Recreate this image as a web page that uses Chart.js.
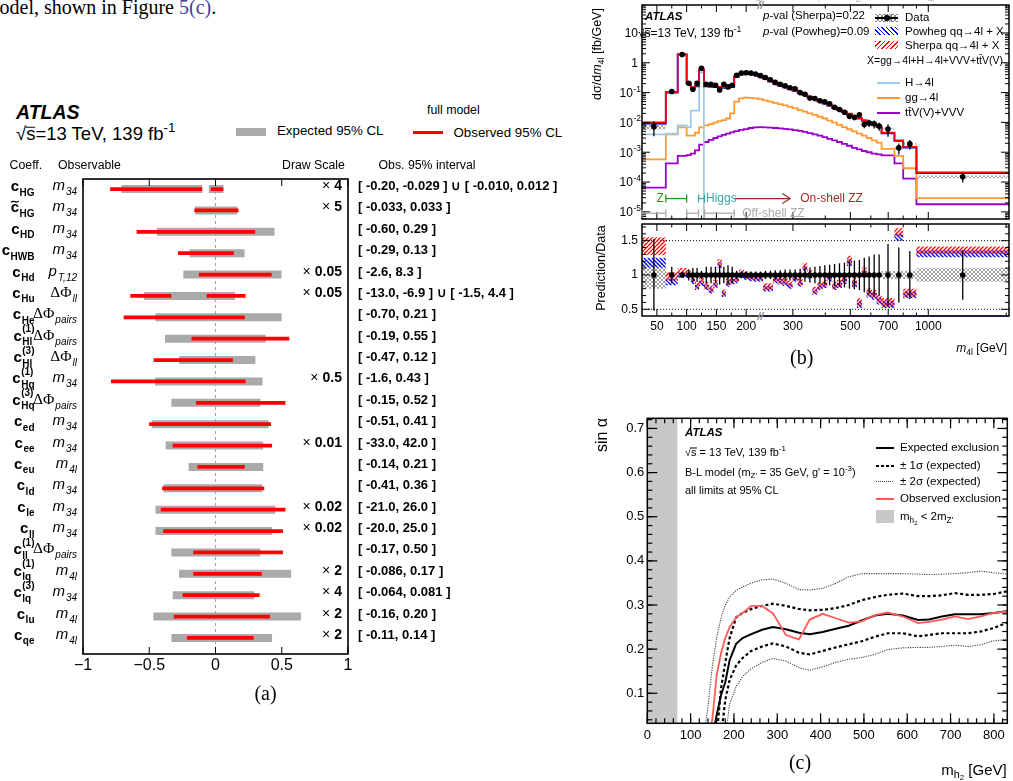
<!DOCTYPE html>
<html lang="en">
<head>
<meta charset="UTF-8">
<meta name="viewport" content="width=device-width, initial-scale=1.0">
<title>EFT limits, m4l spectrum and sin alpha exclusion</title>
<script src="https://cdn.jsdelivr.net/npm/chart.js"></script>
<style>
  html, body { margin: 0; padding: 0; background: #fff; }
  body { position: relative; width: 1013px; height: 781px; overflow: hidden;
         font-family: "Liberation Sans", Arial, Helvetica, sans-serif; color: #000; }
  canvas { position: absolute; }
  .t { position: absolute; white-space: nowrap; line-height: 1; }
  .t sub { font-size: 0.72em; vertical-align: -0.32em; line-height: 0; }
  .t sup { font-size: 0.72em; vertical-align: 0.55em; line-height: 0; }
  .sw { position: absolute; }
  .ov { position: relative; }
  .ov::after { content: ""; position: absolute; left: 0; right: 0; top: 0.2em; border-top: 0.06em solid #000; }
</style>
</head>
<body>
<canvas id="chartA" width="580" height="520" style="left:0;top:169px"></canvas>
<canvas id="chartB" width="413" height="223" style="left:600px;top:0"></canvas>
<canvas id="chartR" width="413" height="127" style="left:600px;top:210px"></canvas>
<canvas id="chartC" width="413" height="351" style="left:600px;top:404px"></canvas>
<script>
const FF = '"Liberation Sans", Arial, Helvetica, sans-serif';
const SERIF = '"Liberation Serif", "Times New Roman", serif';
Chart.defaults.font.family = FF;
Chart.defaults.color = '#000';

// ---------- (a) EFT coefficient limits ----------
const coeffSub = ['HG', 'HG', 'HD', 'HWB', 'Hd', 'Hu', 'He', 'Hl', 'Hl', 'Hq', 'Hq', 'ed', 'ee', 'eu', 'ld', 'le', 'll', 'll', 'lq', 'lq', 'lu', 'qe'];
const coeffSup = ['', '', '', '', '', '', '', '(1)', '(3)', '(1)', '(3)', '', '', '', '', '', '', '(1)', '(1)', '(3)', '', ''];
const tildeRows = [1];
const obsMain = ['m', 'm', 'm', 'm', 'p', 'ΔΦ', 'ΔΦ', 'ΔΦ', 'ΔΦ', 'm', 'ΔΦ', 'm', 'm', 'm', 'm', 'm', 'm', 'ΔΦ', 'm', 'm', 'm', 'm'];
const obsSub = ['34', '34', '34', '34', 'T,12', 'll', 'pairs', 'pairs', 'll', '34', 'pairs', '34', '34', '4l', '34', '34', '34', 'pairs', '4l', '34', '4l', '4l'];
const drawScale = ['4', '5', '', '', '0.05', '0.05', '', '', '', '0.5', '', '', '0.01', '', '', '0.02', '0.02', '', '2', '4', '2', '2'];
const obsInterval = ['[ -0.20, -0.029 ] \u222a [ -0.010, 0.012 ]', '[ -0.033, 0.033 ]', '[ -0.60, 0.29 ]', '[ -0.29, 0.13 ]',
  '[ -2.6, 8.3 ]', '[ -13.0, -6.9 ] \u222a [ -1.5, 4.4 ]', '[ -0.70, 0.21 ]', '[ -0.19, 0.55 ]', '[ -0.47, 0.12 ]',
  '[ -1.6, 0.43 ]', '[ -0.15, 0.52 ]', '[ -0.51, 0.41 ]', '[ -33.0, 42.0 ]', '[ -0.14, 0.21 ]', '[ -0.41, 0.36 ]',
  '[ -21.0, 26.0 ]', '[ -20.0, 25.0 ]', '[ -0.17, 0.50 ]', '[ -0.086, 0.17 ]', '[ -0.064, 0.081 ]', '[ -0.16, 0.20 ]', '[ -0.11, 0.14 ]'];
const expected95 = [
  [[-0.71, -0.10], [-0.05, 0.06]], [[-0.155, 0.165]], [[-0.443, 0.445]], [[-0.195, 0.219]], [[-0.243, 0.499]],
  [[-0.541, 0.147]], [[-0.453, 0.499]], [[-0.381, 0.379]], [[-0.275, 0.301]], [[-0.456, 0.355]], [[-0.333, 0.339]],
  [[-0.48, 0.40]], [[-0.376, 0.36]], [[-0.203, 0.36]], [[-0.392, 0.352]], [[-0.453, 0.451]], [[-0.453, 0.427]],
  [[-0.333, 0.339]], [[-0.275, 0.571]], [[-0.323, 0.293]], [[-0.469, 0.645]], [[-0.333, 0.427]]
];
const observed95 = [
  [[-0.795, -0.10], [-0.035, 0.059]], [[-0.16, 0.173]], [[-0.595, 0.299]], [[-0.283, 0.139]], [[-0.125, 0.424]],
  [[-0.643, -0.333], [-0.067, 0.227]], [[-0.693, 0.221]], [[-0.181, 0.557]], [[-0.467, 0.131]], [[-0.789, 0.227]],
  [[-0.147, 0.528]], [[-0.501, 0.419]], [[-0.323, 0.427]], [[-0.136, 0.221]], [[-0.403, 0.368]], [[-0.413, 0.528]],
  [[-0.395, 0.509]], [[-0.168, 0.509]], [[-0.168, 0.349]], [[-0.248, 0.333]], [[-0.315, 0.411]], [[-0.216, 0.288]]
];
const xTicksA = [-1, -0.5, 0, 0.5, 1];
const rowRange = [-0.47, 21.75];

// ---------- (b) m4l spectrum ----------
const binEdges = [25, 65, 85, 100, 107, 114, 121, 129, 137, 145, 152, 159, 166, 173, 180, 188, 196, 204, 212, 220,
  230, 240, 251, 262, 274, 286, 299, 313, 327, 341, 357, 373, 390, 407, 425, 444, 464, 485, 507, 530,
  554, 578, 604, 632, 660, 740, 800, 900, 2050];
const dataVals = [0.0072, 0.109, 1.89, 0.205, 0.13, 0.205, 0.65, 0.19, 0.19, 0.176,
  0.123, 0.19, 0.155, 0.176, 0.38, 0.45, 0.46, 0.45, 0.42, 0.37,
  0.32, 0.27, 0.22, 0.19, 0.168, 0.145, 0.135, 0.10, 0.088, 0.066,
  0.063, 0.053, 0.049, 0.042, 0.032, 0.027, 0.022, 0.016, 0.0148, 0.018,
  0.0085, 0.0096, 0.009, 0.0075, 0.006, 0.0014, 0.0019, 0.00015];
const dataErr = [0.52, 0.12, 0.03, 0.08, 0.10, 0.10, 0.06, 0.12, 0.12, 0.12,
  0.14, 0.12, 0.14, 0.12, 0.06, 0.05, 0.05, 0.05, 0.05, 0.05,
  0.06, 0.06, 0.07, 0.07, 0.08, 0.08, 0.08, 0.09, 0.10, 0.11,
  0.12, 0.13, 0.14, 0.15, 0.16, 0.17, 0.18, 0.20, 0.21, 0.22,
  0.25, 0.27, 0.30, 0.30, 0.45, 0.40, 0.35, 0.36];
const dataSyst = [0.20, 0.03, 0.03, 0.03, 0.03, 0.03, 0.03, 0.03, 0.03, 0.03,
  0.03, 0.03, 0.03, 0.03, 0.03, 0.03, 0.03, 0.03, 0.03, 0.03,
  0.03, 0.03, 0.03, 0.03, 0.03, 0.03, 0.03, 0.03, 0.03, 0.03,
  0.03, 0.03, 0.03, 0.03, 0.03, 0.03, 0.03, 0.03, 0.03, 0.03,
  0.03, 0.03, 0.03, 0.03, 0.06, 0.06, 0.06, 0.10];
const sherpaVals = [0.0100, 0.105, 1.95, 0.21, 0.15, 0.17, 0.60, 0.17, 0.165, 0.16,
  0.155, 0.15, 0.15, 0.165, 0.35, 0.43, 0.45, 0.44, 0.41, 0.36,
  0.30, 0.25, 0.21, 0.178, 0.155, 0.135, 0.12, 0.10, 0.086, 0.073,
  0.062, 0.053, 0.045, 0.038, 0.032, 0.027, 0.023, 0.0195, 0.0165, 0.014,
  0.0118, 0.010, 0.0085, 0.0072, 0.0045, 0.0025, 0.0015, 0.00021];
const powhegVals = [0.0092, 0.100, 1.88, 0.20, 0.143, 0.162, 0.58, 0.162, 0.157, 0.152,
  0.147, 0.143, 0.143, 0.157, 0.335, 0.41, 0.43, 0.42, 0.395, 0.345,
  0.288, 0.24, 0.202, 0.171, 0.149, 0.13, 0.115, 0.096, 0.083, 0.07,
  0.06, 0.051, 0.043, 0.0365, 0.031, 0.026, 0.022, 0.0187, 0.0158, 0.0134,
  0.0113, 0.0096, 0.0082, 0.0069, 0.0043, 0.0024, 0.00144, 0.0002];
const higgsVals = [0.004, 0.0042, 0.0079, 0.0069, 0.025, 0.025, 0.47, 1e-7];
const ggVals = [5.8e-4, 0.004, 0.0068, 0.0036, 0.0036, 0.0045, 0.0068, 0.008, 0.0088, 0.0098,
  0.011, 0.012, 0.0135, 0.02, 0.05, 0.064, 0.068, 0.067, 0.064, 0.06,
  0.055, 0.05, 0.045, 0.041, 0.037, 0.033, 0.03, 0.026, 0.023, 0.02,
  0.018, 0.0155, 0.0135, 0.0115, 0.0098, 0.0083, 0.007, 0.0059, 0.005, 0.0042,
  0.0036, 0.003, 0.0025, 0.0021, 0.0013, 0.00075, 0.00029, 2.9e-5];
const ttvVals = [6.5e-5, 4.2e-4, 7.6e-4, 8.0e-4, 9.0e-4, 1.15e-3, 1.8e-3, 2.2e-3, 2.6e-3, 3.0e-3,
  3.4e-3, 3.8e-3, 4.2e-3, 4.6e-3, 5.1e-3, 5.6e-3, 6.0e-3, 6.5e-3, 6.8e-3, 6.9e-3,
  6.8e-3, 6.7e-3, 6.5e-3, 6.3e-3, 6.1e-3, 5.8e-3, 5.5e-3, 5.2e-3, 4.8e-3, 4.4e-3,
  4.0e-3, 3.6e-3, 3.2e-3, 2.8e-3, 2.5e-3, 2.2e-3, 1.9e-3, 1.65e-3, 1.4e-3, 1.25e-3,
  1.1e-3, 1.0e-3, 9.0e-4, 8.5e-4, 7.9e-4, 4.2e-4, 1.3e-4, 1.8e-5];
const sherpaRatio = [1.42, 0.98, 1.05, 1.03, 0.95, 0.85, 0.92, 0.85, 0.80, 0.88,
  1.18, 0.74, 0.90, 0.93, 0.95, 1.03, 1.00, 0.98, 0.97, 0.97,
  0.83, 0.83, 0.95, 0.93, 0.91, 0.87, 0.97, 0.90, 1.12, 1.02,
  0.78, 0.85, 0.88, 0.98, 0.85, 0.88, 0.95, 1.22, 0.90, 0.60,
  1.05, 0.75, 0.72, 0.65, 0.60, 1.62, 0.74, 1.36];
const sherpaRatioErr = [0.13, 0.06, 0.05, 0.05, 0.05, 0.05, 0.05, 0.05, 0.05, 0.05,
  0.05, 0.05, 0.05, 0.05, 0.05, 0.05, 0.05, 0.05, 0.05, 0.05,
  0.05, 0.05, 0.05, 0.05, 0.05, 0.05, 0.05, 0.05, 0.05, 0.05,
  0.05, 0.05, 0.05, 0.05, 0.05, 0.05, 0.06, 0.06, 0.06, 0.06,
  0.06, 0.06, 0.06, 0.06, 0.065, 0.06, 0.06, 0.055];
const powhegRatio = [1.18, 0.90, 1.00, 0.99, 0.91, 0.82, 0.88, 0.82, 0.77, 0.85,
  1.14, 0.72, 0.87, 0.90, 0.92, 1.00, 0.97, 0.95, 0.94, 0.94,
  0.80, 0.80, 0.92, 0.90, 0.88, 0.84, 0.94, 0.87, 1.09, 0.99,
  0.75, 0.82, 0.85, 0.95, 0.82, 0.85, 0.92, 1.18, 0.87, 0.57,
  1.02, 0.72, 0.69, 0.62, 0.57, 1.55, 0.71, 1.31];
const powhegRatioErr = [0.07, 0.05, 0.04, 0.04, 0.04, 0.04, 0.04, 0.04, 0.04, 0.04,
  0.04, 0.04, 0.04, 0.04, 0.04, 0.04, 0.04, 0.04, 0.04, 0.04,
  0.04, 0.04, 0.04, 0.04, 0.04, 0.04, 0.04, 0.04, 0.04, 0.04,
  0.04, 0.04, 0.04, 0.04, 0.04, 0.04, 0.05, 0.05, 0.05, 0.05,
  0.05, 0.05, 0.05, 0.05, 0.05, 0.05, 0.05, 0.05];
const m4lTicks = [50, 100, 150, 200, 300, 500, 700, 1000];
const m4lMinor = [75, 125, 175, 400, 600, 800, 900, 2000];
const ratioTicks = [0.5, 1, 1.5];
const ratioMinor = [0.6, 0.7, 0.8, 0.9, 1.1, 1.2, 1.3, 1.4, 1.6, 1.7];
const zWindow = [65, 100], higgsWindow = [120, 130], onShellArrow = [180, 293];
const offShellWindows = [[25, 65], [100, 120], [130, 180]];
const annotLevels = [2.8e-5, 9e-6];

// ---------- (c) sin alpha exclusion ----------
const mh2 = [130, 140, 150, 160, 170, 180, 190, 205, 220, 240, 265, 290, 320, 350, 375, 405, 435, 465, 495, 525, 555, 590, 625, 650, 680, 710, 740, 770, 800, 835];
const obsLimit = [null, 0.0, 0.04, 0.14, 0.19, 0.225, 0.25, 0.272, 0.282, 0.298, 0.298, 0.281, 0.232, 0.222, 0.267, 0.28, 0.27, 0.26, 0.263, 0.277, 0.283, 0.274, 0.259, 0.262, 0.267, 0.274, 0.268, 0.274, 0.282, 0.286];
const expLimit = [null, null, 0.0, 0.05, 0.095, 0.125, 0.175, 0.212, 0.225, 0.234, 0.244, 0.25, 0.245, 0.237, 0.234, 0.239, 0.246, 0.253, 0.265, 0.276, 0.28, 0.276, 0.266, 0.267, 0.274, 0.279, 0.279, 0.279, 0.282, 0.287];
const plus1s = [null, null, null, 0.0, 0.11, 0.17, 0.225, 0.272, 0.282, 0.291, 0.298, 0.303, 0.298, 0.291, 0.288, 0.289, 0.293, 0.3, 0.311, 0.318, 0.323, 0.326, 0.32, 0.32, 0.322, 0.327, 0.323, 0.323, 0.325, 0.332];
const minus1s = [null, null, null, null, 0.0, 0.085, 0.13, 0.163, 0.18, 0.196, 0.206, 0.213, 0.206, 0.192, 0.188, 0.196, 0.204, 0.211, 0.218, 0.228, 0.236, 0.236, 0.229, 0.232, 0.236, 0.236, 0.236, 0.24, 0.248, 0.262];
const plus2s = [0.0, 0.07, 0.16, 0.225, 0.27, 0.3, 0.318, 0.333, 0.341, 0.35, 0.357, 0.359, 0.349, 0.335, 0.334, 0.338, 0.349, 0.364, 0.371, 0.371, 0.371, 0.371, 0.37, 0.369, 0.37, 0.371, 0.373, 0.377, 0.373, 0.37];
const minus2s = [null, null, null, null, null, 0.0, 0.075, 0.115, 0.138, 0.156, 0.17, 0.179, 0.173, 0.158, 0.152, 0.16, 0.17, 0.177, 0.181, 0.188, 0.199, 0.203, 0.204, 0.204, 0.206, 0.209, 0.206, 0.21, 0.219, 0.222];
const shadeRegion = [0, 70];
const cXTicks = [0, 100, 200, 300, 400, 500, 600, 700, 800];
const cYTicks = [0.1, 0.2, 0.3, 0.4, 0.5, 0.6, 0.7];
const cRange = { xmin: 0, xmax: 831, ymin: 0.032, ymax: 0.723 };

// ---------- helpers ----------
// m4l axis: linear up to 220 GeV, logarithmic above
function u(m) { return m <= 220 ? m : 220 + 435 * Math.log10(m / 220); }
function histPts(edges, vals) {
  const pts = vals.map((v, i) => ({ x: u(edges[i]), y: v }));
  pts.push({ x: u(edges[vals.length]), y: vals[vals.length - 1] });
  return pts;
}
const binMid = binEdges.slice(0, -1).map((e, i) => (u(e) + u(binEdges[i + 1])) / 2);
function segPts(rows) {
  const pts = [];
  rows.forEach((segs, i) => segs.forEach(([lo, hi]) => pts.push({ x: lo, y: i }, { x: hi, y: i }, { x: hi, y: null })));
  return pts;
}
function seg(ctx, x1, y1, x2, y2) { ctx.beginPath(); ctx.moveTo(x1, y1); ctx.lineTo(x2, y2); ctx.stroke(); }
function xTicksIn(ctx, a, sc, vals, len, top, bottom) {
  vals.forEach(v => {
    const p = sc.getPixelForValue(v);
    if (p < a.left - 0.5 || p > a.right + 0.5) return;
    if (bottom) seg(ctx, p, a.bottom, p, a.bottom - len);
    if (top) seg(ctx, p, a.top, p, a.top + len);
  });
}
function yTicksIn(ctx, a, sc, vals, len, left, right) {
  vals.forEach(v => {
    const p = sc.getPixelForValue(v);
    if (p < a.top - 0.5 || p > a.bottom + 0.5) return;
    if (left) seg(ctx, a.left, p, a.left + len, p);
    if (right) seg(ctx, a.right, p, a.right - len, p);
  });
}
function makeHatch(ctx, color, dirs, step, lw) {
  const c = document.createElement('canvas');
  c.width = c.height = step;
  const g = c.getContext('2d');
  g.strokeStyle = color; g.lineWidth = lw;
  dirs.forEach(dir => {
    g.beginPath();
    for (const off of [-step, 0, step]) {
      if (dir > 0) { g.moveTo(off, step); g.lineTo(off + step, 0); }
      else { g.moveTo(off, 0); g.lineTo(off + step, step); }
    }
    g.stroke();
  });
  return ctx.createPattern(c, 'repeat');
}
function breakMark(ctx, x, y) {
  ctx.save(); ctx.strokeStyle = '#9a9a9a'; ctx.lineWidth = 1.5;
  seg(ctx, x - 3, y + 4, x, y - 4); seg(ctx, x, y + 4, x + 3, y - 4);
  ctx.restore();
}
function T(x, y, html, css, align, rot) {
  const d = document.createElement('div');
  d.className = 't';
  d.innerHTML = html;
  d.style.cssText = 'left:' + x + 'px;top:' + y + 'px;' + (css || '');
  const tx = align === 'right' ? '-100%' : align === 'center' ? '-50%' : '0';
  d.style.transform = rot ? 'translate(-50%,-50%) rotate(-90deg)' : 'translate(' + tx + ',-50%)';
  document.body.appendChild(d);
}
function B(x, y, w, h, css) {
  const d = document.createElement('div');
  d.className = 'sw';
  d.style.cssText = 'left:' + x + 'px;top:' + y + 'px;width:' + w + 'px;height:' + h + 'px;' + css;
  document.body.appendChild(d);
}
const noLegend = { legend: { display: false }, tooltip: { enabled: false } };
const noGrid = { display: false, drawTicks: false };

// ---------- (a) chart ----------
function drawCoeff(ctx, xr, yb, i) {
  const fMain = 'bold 15px ' + FF, fSub = 'bold 10px ' + FF;
  ctx.font = fMain; const wc = ctx.measureText('c').width;
  ctx.font = fSub;
  const ws = ctx.measureText(coeffSub[i]).width;
  const wp = coeffSup[i] ? ctx.measureText(coeffSup[i]).width : 0;
  const x0 = xr - wc - 0.5 - Math.max(ws, wp);
  ctx.textAlign = 'left';
  ctx.font = fMain; ctx.fillText('c', x0, yb);
  ctx.font = fSub; ctx.fillText(coeffSub[i], x0 + wc + 0.5, yb + 4.5);
  if (wp) ctx.fillText(coeffSup[i], x0 + wc + 0.5, yb - 8.5);
  if (tildeRows.includes(i)) {
    const tx = x0 + 0.5, ty = yb - 11;
    ctx.save(); ctx.lineWidth = 1.3; ctx.beginPath();
    ctx.moveTo(tx, ty + 1); ctx.bezierCurveTo(tx + 2.5, ty - 2.5, tx + 4.5, ty + 3, tx + 7.5, ty - 0.5);
    ctx.stroke(); ctx.restore();
  }
}
function drawObs(ctx, xr, yb, i) {
  const isPhi = obsMain[i] === 'ΔΦ';
  const fMain = isPhi ? '15.5px ' + SERIF : 'italic 15px ' + FF;
  const fSub = 'italic 10px ' + FF;
  ctx.font = fMain; const wm = ctx.measureText(obsMain[i]).width;
  ctx.font = fSub; const ws = ctx.measureText(obsSub[i]).width;
  const x0 = xr - wm - ws - 1;
  ctx.textAlign = 'left';
  ctx.font = fMain; ctx.fillText(obsMain[i], x0, yb);
  ctx.font = fSub; ctx.fillText(obsSub[i], x0 + wm + 1, yb + 5);
}
function drawScaleTxt(ctx, xr, yb, s) {
  ctx.textAlign = 'right';
  ctx.font = 'bold 14px ' + FF; ctx.fillText(s, xr, yb);
  const w = ctx.measureText(s).width;
  ctx.font = '14px ' + FF; ctx.fillText('\u00d7', xr - w - 4, yb);
}
const rowsA = {
  id: 'rowsA',
  afterDraw(chart) {
    const { ctx, chartArea: a, scales: { x, y } } = chart;
    ctx.save();
    ctx.strokeStyle = '#000'; ctx.lineWidth = 1.6;
    ctx.strokeRect(a.left, a.top, a.width, a.height);
    ctx.lineWidth = 1;
    xTicksIn(ctx, a, x, xTicksA, 7, true, true);
    ctx.fillStyle = '#000'; ctx.textBaseline = 'alphabetic';
    coeffSub.forEach((s, i) => {
      const py = y.getPixelForValue(i);
      drawCoeff(ctx, 34.5, py + 2, i);
      drawObs(ctx, 77, py + 1, i);
      if (drawScale[i]) drawScaleTxt(ctx, a.right - 6, py + 1, drawScale[i]);
      ctx.font = 'bold 13px ' + FF; ctx.textAlign = 'left';
      ctx.fillText(obsInterval[i], a.right + 10, py + 1);
    });
    ctx.restore();
  }
};
new Chart(document.getElementById('chartA'), {
  type: 'line',
  data: {
    datasets: [
      { data: segPts(observed95), borderColor: '#ff0000', borderWidth: 3.8, order: 0 },
      { data: segPts(expected95), borderColor: '#aaaaaa', borderWidth: 8, order: 1 },
      { data: [{ x: 0, y: rowRange[0] }, { x: 0, y: rowRange[1] }], borderColor: '#a0a0a0', borderWidth: 1, borderDash: [3, 3], order: 2 }
    ]
  },
  options: {
    responsive: false, animation: false,
    layout: { padding: { left: 83, right: 232, top: 10, bottom: 5 } },
    elements: { point: { radius: 0 }, line: { tension: 0, borderCapStyle: 'butt' } },
    plugins: noLegend,
    scales: {
      x: {
        type: 'linear', min: -1, max: 1, grid: noGrid, border: { display: false },
        afterBuildTicks: s => { s.ticks = xTicksA.map(v => ({ value: v })); },
        afterFit: s => { s.height = 30; },
        ticks: { font: { size: 16 }, padding: 2, autoSkip: false, maxRotation: 0, callback: v => String(v).replace('-', '\u2212') }
      },
      y: { type: 'linear', min: rowRange[0], max: rowRange[1], reverse: true, display: false }
    }
  },
  plugins: [rowsA]
});

// ---------- (b) main panel ----------
const ctxB = document.getElementById('chartB').getContext('2d');
const ctxR = document.getElementById('chartR').getContext('2d');
const logMajor = [], logMinor = [];
for (let k = -6; k <= 2; k++) {
  logMajor.push(Math.pow(10, k));
  for (let j = 2; j <= 9; j++) logMinor.push(j * Math.pow(10, k));
}
const mainDeco = {
  id: 'mainDeco',
  afterDatasetsDraw(chart) {
    const { ctx, chartArea: a, scales: { x, y } } = chart;
    ctx.save();
    ctx.beginPath(); ctx.rect(a.left, a.top, a.width, a.height); ctx.clip();
    ctx.strokeStyle = '#000'; ctx.lineWidth = 1.3;
    binMid.forEach((c, i) => {
      const px = x.getPixelForValue(c);
      seg(ctx, px, y.getPixelForValue(dataVals[i] * (1 + dataErr[i])), px, y.getPixelForValue(dataVals[i] * (1 - dataErr[i])));
    });
    ctx.restore();
  },
  afterDraw(chart) {
    const { ctx, chartArea: a, scales: { x, y } } = chart;
    ctx.save();
    ctx.strokeStyle = '#000'; ctx.lineWidth = 1;
    xTicksIn(ctx, a, x, m4lTicks.map(u), 7, true, true);
    xTicksIn(ctx, a, x, m4lMinor.map(u), 3.5, true, true);
    yTicksIn(ctx, a, y, logMajor, 8, true, true);
    yTicksIn(ctx, a, y, logMinor, 4, true, true);
    ctx.lineWidth = 1.5; ctx.strokeRect(a.left, a.top, a.width, a.height);
    breakMark(ctx, x.getPixelForValue(u(225)), a.top);
    // decade labels
    ctx.fillStyle = '#000'; ctx.textAlign = 'right'; ctx.textBaseline = 'alphabetic';
    for (let k = -5; k <= 1; k++) {
      const py = y.getPixelForValue(Math.pow(10, k));
      if (k >= 0) {
        ctx.font = '12px ' + FF; ctx.fillText(k ? '10' : '1', a.left - 4, py + 4.3);
      } else {
        const e = '-' + (-k);
        ctx.font = '8.5px ' + FF; ctx.fillText(e, a.left - 1, py - 1);
        const we = ctx.measureText(e).width;
        ctx.font = '12px ' + FF; ctx.fillText('10', a.left - 1.5 - we, py + 4.3);
      }
    }
    // region annotations
    const px = m => x.getPixelForValue(u(m));
    const yTop = y.getPixelForValue(annotLevels[0]), yBot = y.getPixelForValue(annotLevels[1]);
    const bracket = (m1, m2, yy, col) => {
      ctx.strokeStyle = col; ctx.lineWidth = 1.3;
      seg(ctx, px(m1), yy, px(m2), yy);
      seg(ctx, px(m1), yy - 4, px(m1), yy + 4);
      seg(ctx, px(m2), yy - 4, px(m2), yy + 4);
    };
    bracket(zWindow[0], zWindow[1], yTop, '#12a312');
    bracket(higgsWindow[0], higgsWindow[1], yTop, '#3aa6a6');
    offShellWindows.forEach(w => bracket(w[0], w[1], yBot, '#aaaaaa'));
    ctx.strokeStyle = '#a52a2a'; ctx.lineWidth = 1.3;
    const tip = px(onShellArrow[1]);
    seg(ctx, px(onShellArrow[0]), yTop, tip, yTop);
    seg(ctx, tip - 8, yTop - 5, tip, yTop); seg(ctx, tip, yTop, tip - 8, yTop + 5);
    ctx.font = '12px ' + FF; ctx.textBaseline = 'middle';
    ctx.fillStyle = '#12a312'; ctx.textAlign = 'right'; ctx.fillText('Z', px(zWindow[0]) - 2, yTop);
    ctx.textAlign = 'left';
    ctx.fillStyle = '#3aa6a6'; ctx.fillText('Higgs', px(higgsWindow[1]) + 1.5, yTop);
    ctx.fillStyle = '#a52a2a'; ctx.fillText('On-shell ZZ', tip + 10, yTop);
    ctx.fillStyle = '#aaaaaa'; ctx.fillText('Off-shell ZZ', px(offShellWindows[2][1]) + 8, yBot);
    ctx.restore();
  }
};
new Chart(ctxB, {
  type: 'line',
  data: {
    datasets: [
      { data: binMid.map((c, i) => ({ x: c, y: dataVals[i] })), showLine: false, pointRadius: 2.8,
        pointBackgroundColor: '#000', pointBorderColor: '#000', pointBorderWidth: 0, order: 0 },
      { data: histPts(binEdges, sherpaVals), borderColor: '#ff0000', borderWidth: 1.8, stepped: true, order: 1 },
      { data: histPts(binEdges, powhegVals), borderColor: '#0000ff', borderWidth: 1.8, stepped: true, order: 2 },
      { data: histPts(binEdges, higgsVals), borderColor: '#9dcbf0', borderWidth: 1.8, stepped: true, order: 3 },
      { data: histPts(binEdges, ggVals), borderColor: '#ff9a33', borderWidth: 1.8, stepped: true, order: 4 },
      { data: histPts(binEdges, ttvVals), borderColor: '#9900cc', borderWidth: 1.8, stepped: true, order: 5 },
      { data: histPts(binEdges, dataVals.map((v, i) => v * (1 + dataSyst[i]))), borderColor: 'transparent', stepped: true, order: 6 },
      { data: histPts(binEdges, dataVals.map((v, i) => v * (1 - dataSyst[i]))), borderColor: 'transparent', stepped: true,
        fill: '-1', backgroundColor: makeHatch(ctxB, '#8c8c8c', [1, -1], 4, 0.8), order: 6 }
    ]
  },
  options: {
    responsive: false, animation: false,
    layout: { padding: { left: 0, right: 1, top: 5, bottom: 2 } },
    elements: { point: { radius: 0 }, line: { tension: 0 } },
    plugins: noLegend,
    scales: {
      x: { type: 'linear', display: false, min: u(25), max: u(2050) },
      y: { type: 'logarithmic', min: 5.77e-6, max: 86.5, afterFit: s => { s.width = 42; },
           grid: noGrid, border: { display: false }, ticks: { display: false } }
    }
  },
  plugins: [mainDeco]
});

// ---------- (b) ratio panel ----------
const ratioDeco = {
  id: 'ratioDeco',
  afterDatasetsDraw(chart) {
    const { ctx, chartArea: a, scales: { x, y } } = chart;
    ctx.save();
    ctx.beginPath(); ctx.rect(a.left, a.top, a.width, a.height); ctx.clip();
    ctx.strokeStyle = '#000'; ctx.lineWidth = 1.3;
    binMid.forEach((c, i) => {
      const px = x.getPixelForValue(c);
      seg(ctx, px, y.getPixelForValue(1 + dataErr[i]), px, y.getPixelForValue(1 - dataErr[i]));
    });
    ctx.restore();
  },
  afterDraw(chart) {
    const { ctx, chartArea: a, scales: { x, y } } = chart;
    ctx.save();
    ctx.strokeStyle = '#000'; ctx.lineWidth = 1;
    xTicksIn(ctx, a, x, m4lTicks.map(u), 7, true, true);
    xTicksIn(ctx, a, x, m4lMinor.map(u), 3.5, true, true);
    yTicksIn(ctx, a, y, ratioTicks, 8, true, true);
    yTicksIn(ctx, a, y, ratioMinor, 4, true, true);
    ctx.lineWidth = 1.5; ctx.strokeRect(a.left, a.top, a.width, a.height);
    const bx = x.getPixelForValue(u(225));
    ctx.strokeStyle = '#1c1c4c'; ctx.lineWidth = 2; seg(ctx, bx, a.bottom, a.right, a.bottom);
    breakMark(ctx, bx, a.bottom);
    ctx.restore();
  }
};
const refLine = v => [{ x: u(25), y: v }, { x: u(2050), y: v }];
new Chart(ctxR, {
  type: 'line',
  data: {
    datasets: [
      { data: binMid.map(c => ({ x: c, y: 1 })), showLine: false, pointRadius: 2.8,
        pointBackgroundColor: '#000', pointBorderColor: '#000', pointBorderWidth: 0, order: 0 },
      { data: histPts(binEdges, sherpaRatio.map((v, i) => v + sherpaRatioErr[i])), borderColor: 'transparent', stepped: true, order: 1 },
      { data: histPts(binEdges, sherpaRatio.map((v, i) => v - sherpaRatioErr[i])), borderColor: 'transparent', stepped: true,
        fill: '-1', backgroundColor: makeHatch(ctxR, '#ff0000', [1], 4, 1.3), order: 1 },
      { data: histPts(binEdges, powhegRatio.map((v, i) => v + powhegRatioErr[i])), borderColor: 'transparent', stepped: true, order: 2 },
      { data: histPts(binEdges, powhegRatio.map((v, i) => v - powhegRatioErr[i])), borderColor: 'transparent', stepped: true,
        fill: '-1', backgroundColor: makeHatch(ctxR, '#0000ff', [-1], 4, 1.3), order: 2 },
      { data: histPts(binEdges, dataSyst.map(s => 1 + s)), borderColor: 'transparent', stepped: true, order: 3 },
      { data: histPts(binEdges, dataSyst.map(s => 1 - s)), borderColor: 'transparent', stepped: true,
        fill: '-1', backgroundColor: makeHatch(ctxR, '#8c8c8c', [1, -1], 4, 0.8), order: 3 },
      { data: refLine(1.5), borderColor: '#000', borderWidth: 1, borderDash: [1, 2], order: 4 },
      { data: refLine(0.5), borderColor: '#000', borderWidth: 1, borderDash: [1, 2], order: 4 }
    ]
  },
  options: {
    responsive: false, animation: false,
    layout: { padding: { left: 0, right: 1, top: 14, bottom: 0 } },
    elements: { point: { radius: 0 }, line: { tension: 0 } },
    plugins: noLegend,
    scales: {
      x: {
        type: 'linear', min: u(25), max: u(2050), grid: noGrid, border: { display: false },
        afterBuildTicks: s => { s.ticks = m4lTicks.map(m => ({ value: u(m) })); },
        afterFit: s => { s.height = 21; },
        ticks: { autoSkip: false, maxRotation: 0, padding: 3, font: { size: 12 }, callback: (v, i) => String(m4lTicks[i]) }
      },
      y: {
        type: 'linear', min: 0.402, max: 1.743, grid: noGrid, border: { display: false },
        afterBuildTicks: s => { s.ticks = ratioTicks.map(v => ({ value: v })); },
        afterFit: s => { s.width = 42; },
        ticks: { padding: 4, font: { size: 12 }, callback: v => String(v) }
      }
    }
  },
  plugins: [ratioDeco]
});

// ---------- (c) chart ----------
const cXMinor = [], cYMinor = [];
for (let v = 0; v <= 840; v += 20) cXMinor.push(v);
for (let k = 1; k <= 36; k++) cYMinor.push(k * 0.02);
const cDeco = {
  id: 'cDeco',
  afterDraw(chart) {
    const { ctx, chartArea: a, scales: { x, y } } = chart;
    ctx.save(); ctx.strokeStyle = '#000'; ctx.lineWidth = 1.2;
    xTicksIn(ctx, a, x, cXTicks, 10, true, true);
    xTicksIn(ctx, a, x, cXMinor, 5, true, true);
    yTicksIn(ctx, a, y, cYTicks, 10, true, true);
    yTicksIn(ctx, a, y, cYMinor, 5, true, true);
    ctx.lineWidth = 1.5; ctx.strokeRect(a.left, a.top, a.width, a.height);
    ctx.restore();
  }
};
const pts = (xs, ys) => xs.map((m, i) => ({ x: m, y: ys[i] }));
new Chart(document.getElementById('chartC'), {
  type: 'line',
  data: {
    datasets: [
      { data: pts(mh2, obsLimit), borderColor: '#ff5a5a', borderWidth: 1.8, order: 0 },
      { data: pts(mh2, expLimit), borderColor: '#000', borderWidth: 2, order: 1 },
      { data: pts(mh2, plus1s), borderColor: '#000', borderWidth: 2.2, borderDash: [3, 2.5], order: 2 },
      { data: pts(mh2, minus1s), borderColor: '#000', borderWidth: 2.2, borderDash: [3, 2.5], order: 2 },
      { data: pts(mh2, plus2s), borderColor: '#444', borderWidth: 1.1, borderDash: [1.2, 1.2], order: 3 },
      { data: pts(mh2, minus2s), borderColor: '#444', borderWidth: 1.1, borderDash: [1.2, 1.2], order: 3 },
      { data: [{ x: shadeRegion[0], y: 1 }, { x: shadeRegion[1], y: 1 }], borderColor: 'transparent',
        backgroundColor: '#c8c8c8', fill: 'start', order: 4 }
    ]
  },
  options: {
    responsive: false, animation: false,
    layout: { padding: { left: 0, right: 5.7, top: 14.3, bottom: 5 } },
    elements: { point: { radius: 0 }, line: { tension: 0 } },
    plugins: noLegend,
    scales: {
      x: {
        type: 'linear', min: cRange.xmin, max: cRange.xmax, grid: noGrid, border: { display: false },
        afterBuildTicks: s => { s.ticks = cXTicks.map(v => ({ value: v })); },
        afterFit: s => { s.height = 26.7; },
        ticks: { autoSkip: false, maxRotation: 0, padding: 4, font: { size: 13 } }
      },
      y: {
        type: 'linear', min: cRange.ymin, max: cRange.ymax, grid: noGrid, border: { display: false },
        afterBuildTicks: s => { s.ticks = cYTicks.map(v => ({ value: v })); },
        afterFit: s => { s.width = 47.3; },
        ticks: { padding: 3, font: { size: 13 }, callback: v => v.toFixed(1) }
      }
    }
  },
  plugins: [cDeco]
});

// ---------- text and legends ----------
const rootS = '\u221a<span class="ov">s</span>';
const hatchRed = 'background:repeating-linear-gradient(135deg,#f00 0 1.2px,#fff 1.2px 3.2px);';
const hatchBlue = 'background:repeating-linear-gradient(45deg,#00f 0 1.2px,#fff 1.2px 3.2px);';
const hatchGray = 'background:repeating-linear-gradient(45deg,#888 0 0.8px,transparent 0.8px 3px),repeating-linear-gradient(135deg,#888 0 0.8px,#fff 0.8px 3px);';

const para = document.createElement('div');
para.className = 't';
para.style.cssText = 'left:-16px;top:-3.5px;font-size:20px;font-family:' + SERIF;
para.innerHTML = 'model, shown in Figure <span style="color:#3f3fa0">5(c)</span>.';
document.body.appendChild(para);

// (a)
T(16, 111.5, 'ATLAS', 'font:italic bold 19.5px ' + FF);
T(16, 134, rootS + '=13 TeV, 139 fb<sup>-1</sup>', 'font-size:18.5px');
T(427, 110, 'full model', 'font-size:12.3px');
B(236, 127.7, 30, 8, 'background:#aaaaaa');
T(277, 131, 'Expected 95% CL', 'font-size:13.3px');
B(412.5, 130.5, 30, 3.5, 'background:#ff0000');
T(453.5, 132.5, 'Observed 95% CL', 'font-size:13.3px');
T(9.6, 165.3, 'Coeff.', 'font-size:12.3px');
T(58, 165.3, 'Observable', 'font-size:12.3px');
T(282, 165.3, 'Draw Scale', 'font-size:12.3px');
T(378.5, 165.3, 'Obs. 95% interval', 'font-size:12.3px');
T(265.5, 693, '(a)', 'font-size:20px;font-family:' + SERIF, 'center');

// (b)
T(990, -4, 'Linear bins for <i>m</i><sub>4l</sub> &lt; 220 GeV, bins logarithmic for <i>m</i><sub>4l</sub> &gt; 220 GeV', 'font-size:11px;color:#aaa', 'right');
T(645, 16.3, 'ATLAS', 'font:italic bold 11.5px ' + FF);
T(638, 33, rootS + '=13 TeV, 139 fb<sup>-1</sup>', 'font-size:12px');
T(763, 16, '<i>p</i>-val (Sherpa)=0.22', 'font-size:11.5px');
T(763, 32, '<i>p</i>-val (Powheg)=0.09', 'font-size:11.5px');
B(875, 14, 23, 8, hatchGray);
B(875, 17.4, 23, 1.2, 'background:#000');
B(884, 15.2, 5.6, 5.6, 'background:#000;border-radius:50%');
T(905, 18, 'Data', 'font-size:11.5px');
B(875, 27, 23, 8, hatchBlue);
T(905, 32, 'Powheg qq\u21924l + X', 'font-size:11.5px');
B(875, 40.5, 23, 8, hatchRed);
T(905, 46, 'Sherpa qq\u21924l + X', 'font-size:11.5px');
T(867, 60, 'X=gg\u21924l+H\u21924l+VVV+tt\u0304V(V)', 'font-size:10.5px');
B(877, 82.3, 23, 2, 'background:#9dcbf0');
T(905, 83.3, 'H\u21924l', 'font-size:11.5px');
B(877, 97.3, 23, 2, 'background:#ff9a33');
T(905, 98.3, 'gg\u21924l', 'font-size:11.5px');
B(877, 112.3, 23, 2, 'background:#9900cc');
T(905, 113.3, 'tt\u0304V(V)+VVV', 'font-size:11.5px');
T(597, 54, 'd\u03c3/d<i>m</i><sub>4l</sub> [fb/GeV]', 'font-size:12.5px', 'center', true);
T(601, 267.5, 'Prediction/Data', 'font-size:12.5px', 'center', true);
T(1007, 348.3, '<i>m</i><sub>4l</sub> [GeV]', 'font-size:12px', 'right');
T(801.7, 356.7, '(b)', 'font-size:20px;font-family:' + SERIF, 'center');

// (c)
T(601.7, 435, 'sin \u03b1', 'font-size:16px', 'center', true);
T(685, 432.3, 'ATLAS', 'font:italic bold 11.5px ' + FF);
T(685, 451.7, rootS + ' = 13 TeV, 139 fb<sup>-1</sup>', 'font-size:11px');
T(685, 471.7, 'B-L model (m<sub>Z\'</sub> = 35 GeV, g\' = 10<sup>-3</sup>)', 'font-size:11px');
T(685, 490, 'all limits at 95% CL', 'font-size:11px');
B(876, 447.3, 18, 2, 'background:#000');
T(900, 448.3, 'Expected exclusion', 'font-size:11.5px');
B(876, 464.7, 18, 2, 'background:repeating-linear-gradient(90deg,#000 0 3px,transparent 3px 5px)');
T(900, 465.7, '\u00b1 1\u03c3 (expected)', 'font-size:11.5px');
B(876, 481.2, 18, 1, 'background:repeating-linear-gradient(90deg,#444 0 1px,transparent 1px 2px)');
T(900, 481.7, '\u00b1 2\u03c3 (expected)', 'font-size:11.5px');
B(876, 498.2, 18, 1.6, 'background:#ff5a5a');
T(900, 499, 'Observed exclusion', 'font-size:11.5px');
B(876, 510, 18, 12.7, 'background:#c8c8c8');
T(900, 517, 'm<sub>h<sub>2</sub></sub> &lt; 2m<sub>Z\'</sub>', 'font-size:11.5px');
T(800, 761.7, '(c)', 'font-size:20px;font-family:' + SERIF, 'center');
T(1006.7, 770, 'm<sub>h<sub>2</sub></sub> [GeV]', 'font-size:15px', 'right');
</script>
</body>
</html>
